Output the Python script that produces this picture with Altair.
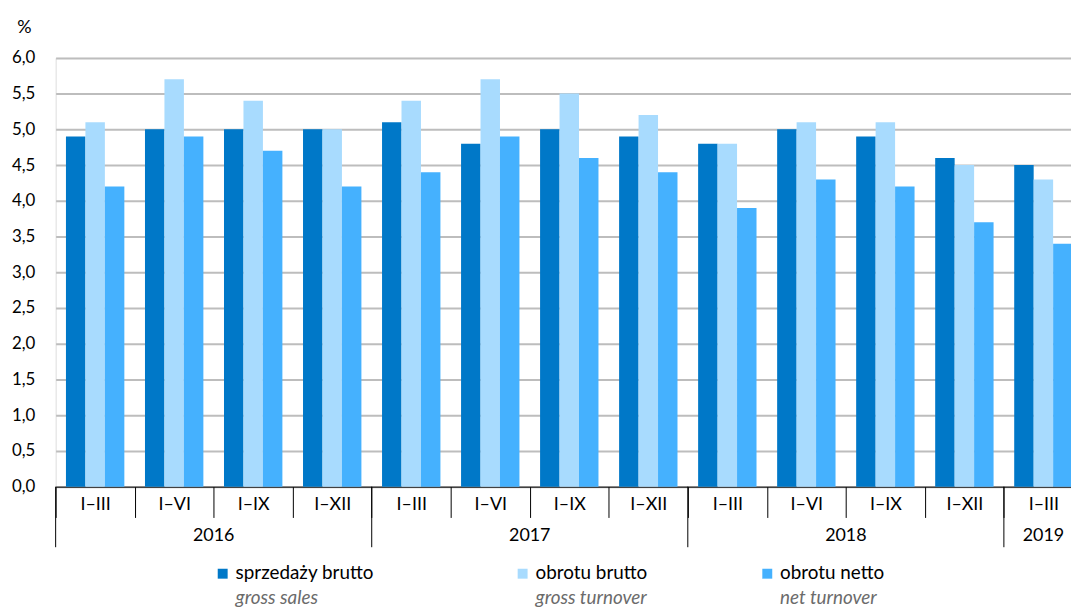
import altair as alt
import pandas as pd

# ---------------- data ----------------
years = ["2016", "2016", "2016", "2016",
         "2017", "2017", "2017", "2017",
         "2018", "2018", "2018", "2018",
         "2019"]
periods = ["I–III", "I–VI", "I–IX", "I–XII",
           "I–III", "I–VI", "I–IX", "I–XII",
           "I–III", "I–VI", "I–IX", "I–XII",
           "I–III"]
gross_sales = [4.9, 5.0, 5.0, 5.0, 5.1, 4.8, 5.0, 4.9, 4.8, 5.0, 4.9, 4.6, 4.5]
gross_turnover = [5.1, 5.7, 5.4, 5.0, 5.4, 5.7, 5.5, 5.2, 4.8, 5.1, 5.1, 4.5, 4.3]
net_turnover = [4.2, 4.9, 4.7, 4.2, 4.4, 4.9, 4.6, 4.4, 3.9, 4.3, 4.2, 3.7, 3.4]
series_pl = ["sprzedaży brutto", "obrotu brutto", "obrotu netto"]
series_en = ["gross sales", "gross turnover", "net turnover"]
y_ticks = [0.0, 0.5, 1.0, 1.5, 2.0, 2.5, 3.0, 3.5, 4.0, 4.5, 5.0, 5.5, 6.0]

# ---------------- style / layout ----------------
colors = ["#0078c8", "#a8dbfe", "#45b1fe"]
FONT = "Lato"
legend_marker_x = [168.3, 470.5, 717.0]
legend_text_x = [181.3, 483.5, 729.8]

keys = [f"{y} {p}" for y, p in zip(years, periods)]

rows = []
for vals, s in zip([gross_sales, gross_turnover, net_turnover], series_pl):
    for k, v in zip(keys, vals):
        rows.append({"key": k, "series": s, "value": v})
bars_df = pd.DataFrame(rows)

# year spans
year_order = []
for y in years:
    if y not in year_order:
        year_order.append(y)
even_rows, odd_rows, first_rows = [], [], []
for y in year_order:
    idx = [i for i, yy in enumerate(years) if yy == y]
    first_rows.append({"key": keys[idx[0]], "year": y})
    n = len(idx)
    if n % 2 == 0:
        even_rows.append({"key": keys[idx[0] + n // 2], "year": y})
    else:
        odd_rows.append({"key": keys[idx[0] + n // 2], "year": y})
even_df = pd.DataFrame(even_rows)
odd_df = pd.DataFrame(odd_rows)
first_df = pd.DataFrame(first_rows)

legend_df = pd.DataFrame({
    "series": series_pl,
    "en": series_en,
    "mx": legend_marker_x,
    "tx": legend_text_x,
})

x_scale = alt.Scale(domain=keys, range=[0, 1035], paddingInner=0, paddingOuter=0)
color_scale = alt.Scale(domain=series_pl, range=colors)
x_axis = alt.Axis(title=None, labelExpr="split(datum.label, ' ')[1]",
                  tickBand="extent", tickSize=31, tickColor="black",
                  domainColor="black", labelBaseline="alphabetic",
                  labelPadding=-8, labelFont=FONT, labelFontSize=18,
                  labelColor="black", labelAngle=0, grid=False,
                  labelOverlap=False)

bars = alt.Chart(bars_df).mark_bar().encode(
    x=alt.X("key:N", scale=x_scale, sort=keys, axis=x_axis),
    xOffset=alt.XOffset("series:N", sort=series_pl,
                        scale=alt.Scale(domain=series_pl, paddingInner=0, paddingOuter=0.53)),
    y=alt.Y("value:Q", scale=alt.Scale(domain=[0, 6], nice=False),
            axis=alt.Axis(values=y_ticks,
                          labelExpr="replace(format(datum.value, '.1f'), '.', ',')",
                          grid=True, gridColor="#bdbdbd", gridWidth=2,
                          domain=False, ticks=False, labelPadding=21,
                          labelFont=FONT, labelFontSize=17, labelColor="black",
                          title="%", titleAngle=0, titleX=-32, titleY=-26,
                          titleAlign="center", titleBaseline="alphabetic",
                          titleFont=FONT, titleFontSize=18, titleFontWeight="normal",
                          titleColor="black")),
    color=alt.Color("series:N", scale=color_scale, legend=None),
)

year_even = alt.Chart(even_df).mark_text(
    font=FONT, fontSize=18, color="black", baseline="alphabetic", align="center"
).encode(
    x=alt.X("key:N", bandPosition=0, scale=x_scale, sort=keys, axis=x_axis),
    y=alt.value(487),
    text="year:N",
)
year_odd = alt.Chart(odd_df).mark_text(
    font=FONT, fontSize=18, color="black", baseline="alphabetic", align="center"
).encode(
    x=alt.X("key:N", bandPosition=0.5, scale=x_scale, sort=keys, axis=x_axis),
    y=alt.value(487),
    text="year:N",
)
year_rules = alt.Chart(first_df).mark_rule(color="black", strokeWidth=1).encode(
    x=alt.X("key:N", bandPosition=0, scale=x_scale, sort=keys, axis=x_axis),
    y=alt.value(432),
    y2=alt.value(493),
)

main = alt.layer(bars, year_rules, year_even, year_odd)

leg_marks = alt.Chart(legend_df).mark_square(size=100, opacity=1).encode(
    x=alt.X("mx:Q", scale=None, axis=None),
    y=alt.value(519.7),
    color=alt.Color("series:N", scale=color_scale, legend=None),
)
leg_pl = alt.Chart(legend_df).mark_text(
    font=FONT, fontSize=19, color="black", align="left", baseline="alphabetic"
).encode(
    x=alt.X("tx:Q", scale=None, axis=None),
    y=alt.value(524.7),
    text="series:N",
)
leg_en = alt.Chart(legend_df).mark_text(
    font=FONT, fontSize=19, color="#6b6b6b", fontStyle="italic",
    align="left", baseline="alphabetic"
).encode(
    x=alt.X("tx:Q", scale=None, axis=None),
    y=alt.value(550.7),
    text="en:N",
)
legend = alt.layer(leg_marks, leg_pl, leg_en)

chart = alt.layer(main, legend).resolve_scale(x="independent").properties(
    width=1023,
    height=432,
    autosize=alt.AutoSizeParams(type="none"),
    padding={"left": 48, "top": 48, "right": 0, "bottom": 122},
).configure_view(stroke=None).configure(background="white")

chart.save("out.html", embed_options={"renderer": "svg", "actions": False})
